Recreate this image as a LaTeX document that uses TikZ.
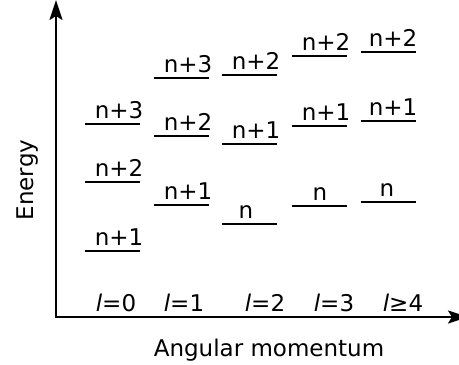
\documentclass[tikz,border=0pt]{standalone}
\usepackage{fontspec}
\setmainfont{DejaVu Sans}
\usetikzlibrary{arrows.meta,positioning}

\begin{document}
\begin{tikzpicture}[
  x=1pt,y=-1pt,
  axis/.style={line width=2.1pt,{Stealth[length=20pt,width=13pt,inset=4pt]}-{Stealth[length=20pt,width=13pt,inset=4pt]}},
  level/.style={line width=2.4pt},
  lab/.style={anchor=base,inner sep=0pt,font=\fontsize{23}{27}\selectfont},
  axlab/.style={anchor=base,inner sep=0pt,font=\fontsize{23}{27}\selectfont}
]
\useasboundingbox (0,0) rectangle (459,365);

% column left ends
\def\xa{85}
\def\xb{154}
\def\xc{222}
\def\xd{292}
\def\xe{361}

% axes
\coordinate (O) at (56,317);
\coordinate (ytop) at (56,0);
\coordinate (xend) at (468,317);
\draw[axis] (ytop) -- (O) -- (xend);

\node[axlab,rotate=90] (energy) at (34,180) {Energy};
\node[axlab] (angmom) at (269,356) {Angular momentum};

% l = 0
\draw[level] (\xa,251) -- (\xa+55,251);
\node[lab] (s1) at (119,245) {n+1};
\draw[level] (\xa,182) -- (\xa+55,182);
\node[lab] (s2) at (119,176) {n+2};
\draw[level] (\xa,124) -- (\xa+55,124);
\node[lab] (s3) at (119,118) {n+3};

% l = 1
\draw[level] (\xb,205) -- (\xb+55,205);
\node[lab] (p1) at (188,199) {n+1};
\draw[level] (\xb,136) -- (\xb+55,136);
\node[lab] (p2) at (188,130) {n+2};
\draw[level] (\xb,78) -- (\xb+55,78);
\node[lab] (p3) at (188,72) {n+3};

% l = 2
\draw[level] (\xc,224) -- (\xc+55,224);
\node[lab] (d0) at (246,218) {n};
\draw[level] (\xc,144) -- (\xc+55,144);
\node[lab] (d1) at (256,138) {n+1};
\draw[level] (\xc,75) -- (\xc+55,75);
\node[lab] (d2) at (256,69) {n+2};

% l = 3
\draw[level] (\xd,206) -- (\xd+55,206);
\node[lab] (f0) at (320,200) {n};
\draw[level] (\xd,126) -- (\xd+55,126);
\node[lab] (f1) at (326,120) {n+1};
\draw[level] (\xd,56) -- (\xd+55,56);
\node[lab] (f2) at (326,50) {n+2};

% l >= 4
\draw[level] (\xe,202) -- (\xe+55,202);
\node[lab] (g0) at (387,196) {n};
\draw[level] (\xe,121) -- (\xe+55,121);
\node[lab] (g1) at (393,115) {n+1};
\draw[level] (\xe,52) -- (\xe+55,52);
\node[lab] (g2) at (393,46) {n+2};

% angular momentum values
\node[lab] (l0) at (116,311) {{\itshape l}=0};
\node[lab] (l1) at (184,311) {{\itshape l}=1};
\node[lab] (l2) at (265,311) {{\itshape l}=2};
\node[lab] (l3) at (334,311) {{\itshape l}=3};
\node[lab] (l4) at (403,311) {{\itshape l}≥4};

\end{tikzpicture}
\end{document}
